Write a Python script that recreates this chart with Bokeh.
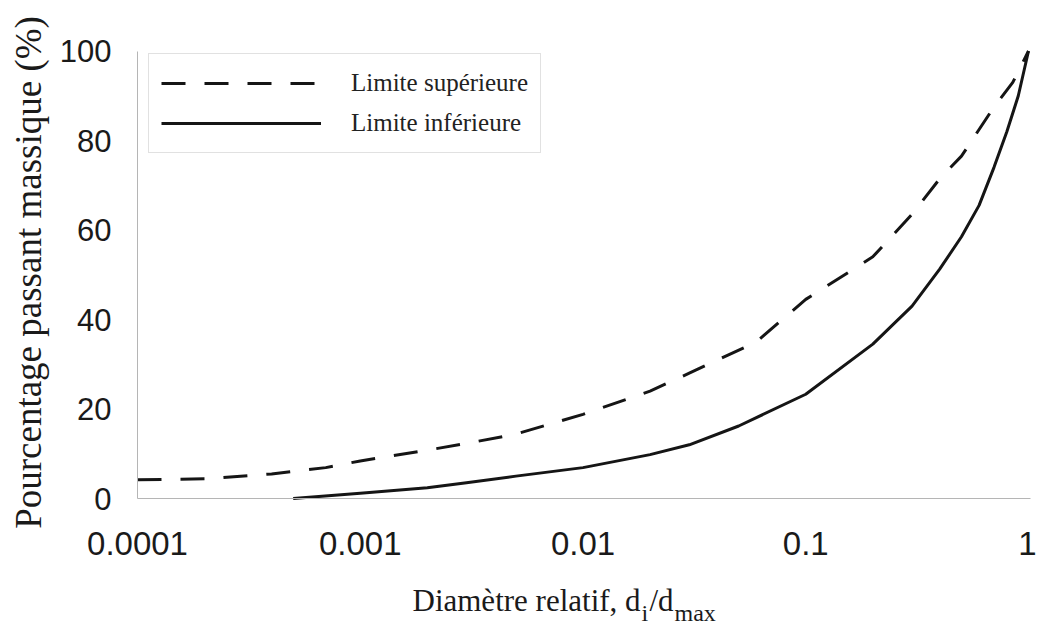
import math
from bokeh.plotting import figure
from bokeh.models import FixedTicker, CustomJSTickFormatter, Label, Range1d
from bokeh.embed import file_html
from bokeh.resources import INLINE

# ---- data ----
upper_x = [0.0001, 0.0002, 0.0004, 0.0007, 0.001, 0.002, 0.003, 0.005, 0.01, 0.02,
           0.03, 0.06, 0.1, 0.2, 0.3, 0.4, 0.5, 0.7, 0.85, 1.0]
upper_y = [4.2, 4.4, 5.5, 6.9, 8.4, 10.8, 12.3, 14.4, 18.8, 24.0,
           28.0, 35.0, 44.5, 54.0, 63.5, 71.5, 76.5, 87.5, 93.0, 100.0]

lower_x = [0.0005, 0.001, 0.002, 0.003, 0.005, 0.01, 0.02, 0.03, 0.05, 0.1,
           0.2, 0.3, 0.4, 0.5, 0.6, 0.7, 0.8, 0.9, 1.0]
lower_y = [0.0, 1.2, 2.4, 3.5, 5.0, 6.9, 9.8, 12.0, 16.2, 23.3,
           34.5, 43.0, 51.3, 58.5, 65.5, 74.0, 82.0, 90.0, 100.0]

x_ticks = [0.0001, 0.001, 0.01, 0.1, 1.0]
x_tick_labels = ["0.0001", "0.001", "0.01", "0.1", "1"]
y_ticks = [0, 20, 40, 60, 80, 100]

series_labels = ["Limite supérieure", "Limite inférieure"]
y_title = "Pourcentage passant massique (%)"
x_title_parts = ["Diamètre relatif, d", "i", "/d", "max"]

# ---- layout (the frame covers the whole canvas; axes are pinned) ----
W, H = 1036, 630
X0_PX, X1_PX = 137, 1028           # pixel of 1e-4 and of 1
ZERO_PX, ppu = 498, 4.475          # pixel of y=0, pixels per y unit
dec = (X1_PX - X0_PX) / 4.0        # pixels per decade
x_start = 10 ** (-4 - X0_PX / dec)
x_end = 10 ** ((W - X1_PX) / dec)
y_top = ZERO_PX / ppu
y_bot = -(H - ZERO_PX) / ppu

p = figure(width=W, height=H, x_axis_type="log",
           x_range=Range1d(x_start, x_end), y_range=Range1d(y_bot, y_top),
           output_backend="svg", toolbar_location=None,
           min_border_left=0, min_border_right=0,
           min_border_top=0, min_border_bottom=0)

p.outline_line_color = None
p.grid.visible = False
p.background_fill_color = "white"
p.border_fill_color = "white"

ink = "#151515"
p.line(upper_x, upper_y, line_width=3, line_color=ink, line_dash="24 19",
       line_join="round", legend_label=series_labels[0])
p.line(lower_x, lower_y, line_width=3, line_color=ink,
       line_join="round", legend_label=series_labels[1])

# axes
for ax in (p.xaxis[0], p.yaxis[0]):
    ax.axis_line_color = "#b5b5b5"
    ax.axis_line_width = 1
    ax.major_tick_line_color = None
    ax.minor_tick_line_color = None
    ax.major_tick_out = 0
    ax.major_tick_in = 0
    ax.major_label_text_font = "Liberation Sans"
    ax.major_label_text_color = "#1a1a1a"

p.xaxis.fixed_location = 0
p.xaxis.bounds = (1e-4, 1.02)
p.xaxis.ticker = FixedTicker(ticks=x_ticks)
p.xaxis.formatter = CustomJSTickFormatter(
    args=dict(tv=x_ticks, tl=x_tick_labels),
    code="""
    let best = 0, bd = Infinity;
    for (let i = 0; i < tv.length; i++) {
        const d = Math.abs(Math.log10(tick) - Math.log10(tv[i]));
        if (d < bd) { bd = d; best = i; }
    }
    return tl[best];
    """)
p.xaxis.major_label_text_font_size = "33px"
p.xaxis.major_label_standoff = 33

p.yaxis.fixed_location = 1e-4
p.yaxis.bounds = (0, 100)
p.yaxis.ticker = FixedTicker(ticks=y_ticks)
p.yaxis.major_label_text_font_size = "31px"
p.yaxis.major_label_standoff = 26

serif = "Liberation Serif"
# y-axis title (rotated real text)
p.add_layout(Label(x=1e-4, y=(ZERO_PX - 272) / ppu, x_offset=-(X0_PX - 28),
                   text=y_title, angle=math.pi / 2,
                   text_font=serif, text_font_size="37px",
                   text_color="#1a1a1a", text_align="center",
                   text_baseline="middle"))

# x-axis title with subscripts (real text pieces)
base_y = -102 / ppu
sub_y = -114 / ppu
pieces = [
    (x_title_parts[0], 275, base_y, "31px"),
    (x_title_parts[1], 504, sub_y, "24px"),
    (x_title_parts[2], 512, base_y, "31px"),
    (x_title_parts[3], 537, sub_y, "24px"),
]
for txt, xo, yy, fs in pieces:
    p.add_layout(Label(x=1e-4, y=yy, x_offset=xo, text=txt,
                       text_font=serif, text_font_size=fs,
                       text_color="#1a1a1a", text_align="left",
                       text_baseline="alphabetic"))

# legend
lg = p.legend[0]
PAD, ROW, SP = 12, 34, 6
leg_h = 2 * PAD + 2 * ROW + SP
lg.location = (148, H - 55 - leg_h)
lg.margin = 0
lg.padding = PAD
lg.spacing = SP
lg.glyph_width = 160
lg.glyph_height = ROW
lg.label_height = ROW
lg.label_standoff = 30
lg.label_text_font = serif
lg.label_text_font_size = "25px"
lg.label_text_color = "#222222"
lg.border_line_color = "#c4c4c4"
lg.border_line_width = 1
lg.background_fill_color = "white"
lg.background_fill_alpha = 1.0

open("out.html", "w").write(file_html(p, INLINE))
